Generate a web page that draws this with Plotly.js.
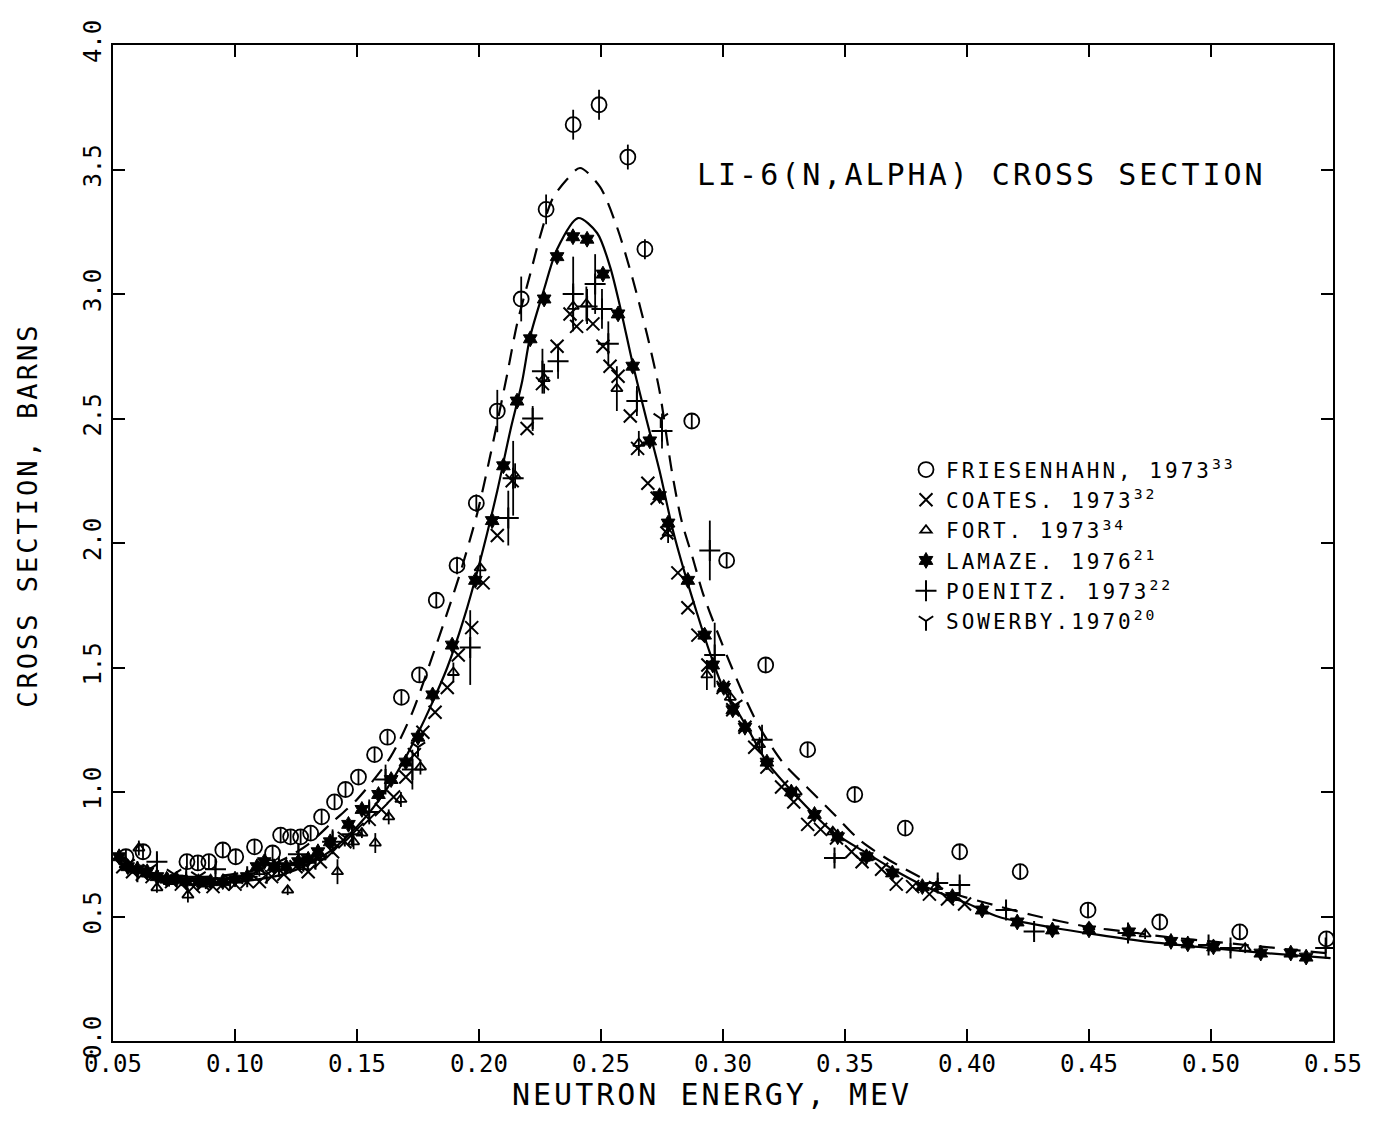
<!DOCTYPE html>
<html>
<head>
<meta charset="utf-8">
<script src="https://cdn.plot.ly/plotly-3.0.1.min.js"></script>
<style>
  body { margin: 0; background: #fff; }
  #chart { width: 1385px; height: 1123px; }
  .legendtext { letter-spacing: 3px; }
  .annotation-text { letter-spacing: 3px; }
</style>
</head>
<body>
<div id="chart"></div>
<script>
// ---- Data (neutron energy in MeV, cross section in barns) ----
const fitSolidX = [0.0525,0.06,0.07,0.08,0.09,0.10,0.11,0.12,0.13,0.14,0.15,0.16,0.17,0.1752,0.180,0.187,0.1936,0.2005,0.2075,0.2128,0.2177,0.221,0.2267,0.232,0.2406,0.2484,0.2537,0.2578,0.263,0.2688,0.274,0.2795,0.2843,0.2893,0.2946,0.300,0.3056,0.311,0.318,0.3314,0.345,0.3588,0.3723,0.3858,0.3997,0.4132,0.4337,0.454,0.4745,0.495,0.5224,0.549];
const fitSolidY = [0.70,0.68,0.66,0.645,0.64,0.64,0.65,0.67,0.71,0.77,0.86,0.98,1.14,1.24,1.34,1.50,1.69,1.93,2.21,2.45,2.65,2.83,3.02,3.18,3.305,3.245,3.11,2.95,2.72,2.49,2.29,2.05,1.88,1.72,1.56,1.42,1.33,1.24,1.12,0.97,0.84,0.755,0.675,0.607,0.554,0.498,0.458,0.426,0.398,0.378,0.353,0.333];

const fitDashX = [0.0525,0.07,0.09,0.11,0.12,0.13,0.14,0.150,0.1637,0.1727,0.180,0.187,0.1923,0.1993,0.2046,0.2116,0.2156,0.221,0.225,0.23,0.236,0.2414,0.2496,0.2565,0.263,0.2688,0.274,0.279,0.283,0.2876,0.2917,0.2974,0.3036,0.3089,0.315,0.3244,0.3343,0.345,0.356,0.368,0.3805,0.394,0.408,0.4267,0.45,0.4663,0.4815,0.50,0.5428,0.55];
const fitDashY = [0.70,0.67,0.66,0.69,0.73,0.79,0.88,0.97,1.14,1.32,1.52,1.72,1.88,2.12,2.35,2.68,2.88,3.08,3.23,3.38,3.46,3.506,3.43,3.27,3.06,2.84,2.61,2.29,2.09,1.94,1.80,1.65,1.50,1.38,1.26,1.12,1.02,0.916,0.807,0.727,0.66,0.594,0.554,0.506,0.458,0.438,0.418,0.40,0.357,0.35];

const friesX = [0.0553,0.0623,0.0803,0.0848,0.0893,0.095,0.1003,0.108,0.1154,0.1187,0.1228,0.1269,0.131,0.1355,0.1408,0.1453,0.1506,0.1572,0.1625,0.1682,0.1756,0.1825,0.191,0.1989,0.2075,0.2173,0.2275,0.2386,0.2492,0.261,0.268,0.2872,0.3015,0.3175,0.3347,0.354,0.3747,0.397,0.4218,0.4496,0.479,0.5118,0.5473];
const friesY = [0.74,0.76,0.72,0.715,0.72,0.767,0.74,0.78,0.755,0.827,0.82,0.82,0.835,0.90,0.96,1.01,1.06,1.15,1.22,1.38,1.47,1.77,1.91,2.16,2.53,2.98,3.34,3.68,3.76,3.55,3.18,2.49,1.93,1.51,1.17,0.99,0.855,0.76,0.68,0.526,0.478,0.438,0.41];
const friesErr = [0.028,0.028,0.028,0.028,0.028,0.028,0.028,0.028,0.028,0.028,0.028,0.028,0.028,0.028,0.028,0.028,0.028,0.028,0.028,0.028,0.028,0.028,0.035,0.035,0.085,0.09,0.06,0.06,0.06,0.05,0.04,0.028,0.028,0.028,0.028,0.028,0.028,0.028,0.028,0.028,0.028,0.028,0.028];

const coatesX = [0.054,0.058,0.062,0.066,0.070,0.074,0.078,0.083,0.087,0.091,0.095,0.100,0.105,0.110,0.115,0.120,0.125,0.130,0.135,0.140,0.145,0.150,0.155,0.160,0.165,0.170,0.1735,0.177,0.182,0.187,0.1915,0.197,0.2017,0.2075,0.2136,0.2197,0.226,0.232,0.2373,0.240,0.2467,0.2508,0.2537,0.257,0.262,0.265,0.2692,0.273,0.277,0.2815,0.2856,0.2897,0.2938,0.300,0.304,0.309,0.313,0.318,0.324,0.329,0.3347,0.340,0.3465,0.3527,0.357,0.365,0.371,0.3777,0.3846,0.392,0.399];
const coatesY = [0.70,0.68,0.67,0.66,0.65,0.64,0.63,0.62,0.63,0.62,0.63,0.63,0.64,0.64,0.66,0.67,0.70,0.68,0.72,0.76,0.80,0.85,0.89,0.93,0.98,1.06,1.15,1.24,1.32,1.42,1.55,1.66,1.84,2.03,2.25,2.46,2.64,2.79,2.92,2.87,2.88,2.79,2.71,2.67,2.51,2.38,2.24,2.18,2.04,1.88,1.74,1.63,1.51,1.42,1.33,1.26,1.18,1.10,1.02,0.96,0.87,0.85,0.815,0.76,0.72,0.69,0.63,0.62,0.59,0.57,0.55];

const fortX = [0.055,0.0606,0.064,0.068,0.073,0.0807,0.088,0.095,0.103,0.110,0.1216,0.128,0.135,0.142,0.1486,0.152,0.1575,0.163,0.168,0.176,0.1895,0.2005,0.2148,0.2267,0.2386,0.244,0.2565,0.2655,0.2775,0.2934,0.303,0.315,0.33,0.345,0.36,0.3874,0.45,0.473,0.514];
const fortY = [0.72,0.775,0.67,0.615,0.64,0.586,0.63,0.64,0.65,0.68,0.606,0.70,0.74,0.68,0.80,0.835,0.795,0.90,0.97,1.10,1.48,1.90,2.27,2.66,2.95,2.96,2.62,2.40,2.04,1.47,1.38,1.19,1.00,0.84,0.74,0.62,0.458,0.43,0.373];
const fortErr = [0.02,0.03,0.02,0.02,0.02,0.03,0.02,0.02,0.02,0.02,0.02,0.02,0.02,0.05,0.03,0.02,0.04,0.03,0.03,0.03,0.04,0.05,0.05,0.06,0.08,0.07,0.09,0.05,0.04,0.06,0.03,0.03,0.02,0.02,0.02,0.02,0.02,0.02,0.02];

const lamazeX = [0.0525,0.056,0.060,0.064,0.068,0.072,0.076,0.080,0.085,0.090,0.095,0.100,0.105,0.109,0.112,0.116,0.121,0.126,0.130,0.134,0.139,0.1465,0.152,0.1588,0.164,0.170,0.175,0.181,0.189,0.1985,0.2054,0.210,0.2156,0.221,0.2267,0.232,0.2385,0.2443,0.2508,0.257,0.263,0.270,0.274,0.2775,0.2856,0.2925,0.2958,0.3003,0.304,0.309,0.318,0.328,0.3375,0.347,0.3588,0.3694,0.3817,0.394,0.4062,0.4206,0.435,0.450,0.4663,0.4836,0.4905,0.501,0.5204,0.5327,0.539];
const lamazeY = [0.74,0.70,0.69,0.68,0.66,0.65,0.65,0.64,0.64,0.64,0.64,0.65,0.66,0.70,0.72,0.70,0.70,0.72,0.73,0.76,0.80,0.87,0.93,0.99,1.05,1.12,1.22,1.39,1.59,1.85,2.09,2.31,2.57,2.82,2.98,3.15,3.23,3.22,3.08,2.92,2.71,2.41,2.19,2.08,1.85,1.63,1.51,1.42,1.33,1.26,1.12,1.00,0.91,0.82,0.74,0.675,0.62,0.58,0.526,0.478,0.446,0.446,0.438,0.40,0.39,0.378,0.353,0.353,0.337];

const poenitzX = [0.060,0.068,0.080,0.092,0.105,0.118,0.126,0.133,0.140,0.148,0.155,0.1617,0.1727,0.1964,0.212,0.214,0.222,0.226,0.2324,0.2386,0.2443,0.2476,0.2504,0.253,0.2647,0.275,0.2946,0.2966,0.316,0.3457,0.388,0.397,0.416,0.4275,0.466,0.499,0.508,0.547];
const poenitzY = [0.68,0.72,0.66,0.69,0.66,0.70,0.75,0.73,0.80,0.83,0.92,1.05,1.09,1.58,2.10,2.26,2.50,2.69,2.73,3.00,2.95,3.04,2.94,2.80,2.57,2.45,1.97,1.55,1.21,0.735,0.635,0.627,0.526,0.44,0.434,0.386,0.373,0.373];
const poenitzErr = [0.02,0.03,0.02,0.02,0.02,0.03,0.04,0.03,0.05,0.05,0.05,0.06,0.08,0.15,0.11,0.15,0.05,0.09,0.07,0.15,0.07,0.12,0.08,0.09,0.06,0.07,0.12,0.13,0.06,0.02,0.02,0.02,0.02,0.02,0.04,0.02,0.02,0.02];

const sowerbyX = [0.056,0.065,0.075,0.085,0.098,0.113,0.128,0.145,0.175,0.2745,0.305];
const sowerbyY = [0.71,0.69,0.67,0.66,0.65,0.67,0.72,0.82,1.18,2.50,1.35];

const xTicks = [0.05,0.10,0.15,0.20,0.25,0.30,0.35,0.40,0.45,0.50,0.55];
const yTicks = [0.0,0.5,1.0,1.5,2.0,2.5,3.0,3.5,4.0];

const legendNames = [
  'FRIESENHAHN, 1973<sup>33</sup>',
  'COATES. 1973<sup>32</sup>',
  'FORT. 1973<sup>34</sup>',
  'LAMAZE. 1976<sup>21</sup>',
  'POENITZ. 1973<sup>22</sup>',
  'SOWERBY.1970<sup>20</sup>'
];

// ---- Traces ----
const K = 'black';
function err(arr) { return {type:'data', array: arr, visible: true, width: 0, thickness: 1.8, color: K}; }

const traces = [
  {x: fitSolidX, y: fitSolidY, mode: 'lines', line: {color: K, width: 2.2, shape: 'spline', smoothing: 0.8}, showlegend: false, hoverinfo: 'skip'},
  {x: fitDashX, y: fitDashY, mode: 'lines', line: {color: K, width: 2.2, dash: '16px,10px', shape: 'spline', smoothing: 0.8}, showlegend: false, hoverinfo: 'skip'},
  {x: friesX, y: friesY, error_y: err(friesErr), mode: 'markers', name: legendNames[0],
   marker: {symbol: 'circle-open', size: 15, color: K, line: {width: 1.8, color: K}}},
  {x: coatesX, y: coatesY, mode: 'markers', name: legendNames[1],
   marker: {symbol: 'x-thin-open', size: 13, color: K, line: {width: 2, color: K}}},
  {x: fortX, y: fortY, error_y: err(fortErr), mode: 'markers', name: legendNames[2],
   marker: {symbol: 'triangle-up-open', size: 10, color: K, line: {width: 1.8, color: K}}},
  {x: lamazeX, y: lamazeY, mode: 'markers', name: legendNames[3],
   marker: {symbol: 'hexagram', size: 12, color: K, line: {width: 1, color: K}}},
  {x: poenitzX, y: poenitzY, error_y: err(poenitzErr), mode: 'markers', name: legendNames[4],
   marker: {symbol: 'cross-thin-open', size: 15, color: K, line: {width: 2, color: K}}},
  {x: sowerbyX, y: sowerbyY, mode: 'markers', name: legendNames[5],
   marker: {symbol: 'y-down-open', size: 12, color: K, line: {width: 2, color: K}}}
];

const FONT = '"DejaVu Sans Mono", "Liberation Mono", monospace';

const layout = {
  width: 1385, height: 1123,
  margin: {l: 113, r: 52, t: 45, b: 82},
  paper_bgcolor: 'white', plot_bgcolor: 'white',
  font: {family: FONT, color: K},
  showlegend: true,
  legend: {
    x: 0.650, y: 0.594, xanchor: 'left', yanchor: 'top',
    bgcolor: 'rgba(0,0,0,0)', borderwidth: 0,
    font: {family: FONT, size: 21, color: K},
    itemwidth: 30, tracegroupgap: 0
  },
  xaxis: {
    range: [0.05, 0.55], tickvals: xTicks, tickformat: '.2f',
    ticks: 'inside', ticklen: 12, tickwidth: 2, tickcolor: K,
    showline: true, linewidth: 2, linecolor: K, mirror: 'ticks',
    showgrid: false, zeroline: false,
    tickfont: {family: FONT, size: 24, color: K}
  },
  yaxis: {
    range: [0, 4], tickvals: yTicks, tickformat: '.1f',
    ticks: 'inside', ticklen: 12, tickwidth: 2, tickcolor: K,
    showline: true, linewidth: 2, linecolor: K, mirror: 'ticks',
    showgrid: false, zeroline: false, tickangle: -90,
    tickfont: {family: FONT, size: 24, color: K}
  },
  annotations: [
    {text: 'LI-6(N,ALPHA) CROSS SECTION', xref: 'paper', yref: 'paper', x: 0.477, y: 0.8695,
     xanchor: 'left', yanchor: 'middle', showarrow: false, font: {family: FONT, size: 30, color: K}},
    {text: 'NEUTRON ENERGY, MEV', xref: 'paper', yref: 'paper', x: 0.491, y: -0.054,
     xanchor: 'center', yanchor: 'middle', showarrow: false, font: {family: FONT, size: 30, color: K}},
    {text: 'CROSS SECTION, BARNS', xref: 'paper', yref: 'paper', x: -0.07, y: 0.528,
     xanchor: 'center', yanchor: 'middle', textangle: -90, showarrow: false, font: {family: FONT, size: 27, color: K}}
  ]
};

Plotly.newPlot('chart', traces, layout, {displayModeBar: false, staticPlot: true});
</script>
</body>
</html>
